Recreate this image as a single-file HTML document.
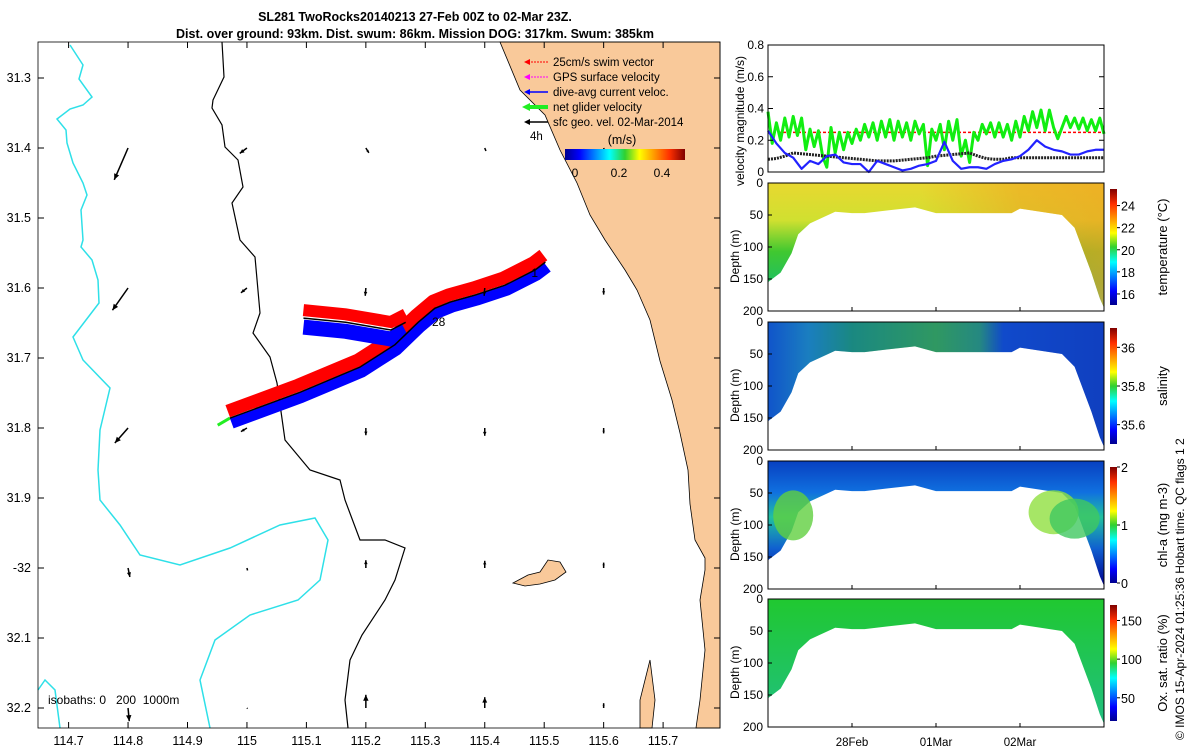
<!DOCTYPE html>
<html><head><meta charset="utf-8"><style>
body{margin:0;background:#fff;}
svg{display:block;font-family:"Liberation Sans","DejaVu Sans",sans-serif;}
</style></head><body>
<svg id="fig" width="1200" height="750" viewBox="0 0 1200 750" xmlns="http://www.w3.org/2000/svg">
<defs>
<linearGradient id="jet" x1="0" y1="1" x2="0" y2="0">
<stop offset="0" stop-color="#00008f"/><stop offset="0.12" stop-color="#0000ff"/><stop offset="0.37" stop-color="#00ffff"/><stop offset="0.5" stop-color="#30d030"/><stop offset="0.62" stop-color="#ffff00"/><stop offset="0.87" stop-color="#ff3000"/><stop offset="1" stop-color="#800000"/></linearGradient>
<linearGradient id="jeth" x1="0" y1="0" x2="1" y2="0">
<stop offset="0" stop-color="#00008f"/><stop offset="0.12" stop-color="#0000ff"/><stop offset="0.37" stop-color="#00ffff"/><stop offset="0.5" stop-color="#30d030"/><stop offset="0.62" stop-color="#ffff00"/><stop offset="0.87" stop-color="#ff3000"/><stop offset="1" stop-color="#800000"/></linearGradient>
<linearGradient id="gT" x1="0" y1="0" x2="0" y2="1"><stop offset="0" stop-color="#e8d830"/><stop offset="0.3" stop-color="#d0e030"/><stop offset="0.55" stop-color="#40c830"/><stop offset="0.8" stop-color="#20c060"/><stop offset="1" stop-color="#20c8b0"/></linearGradient>
<linearGradient id="gTo" x1="0" y1="0" x2="1" y2="0"><stop offset="0.45" stop-color="#f0a020" stop-opacity="0"/><stop offset="0.75" stop-color="#f0a020" stop-opacity="0.55"/><stop offset="1" stop-color="#f0a020" stop-opacity="0.7"/></linearGradient>
<linearGradient id="gS" x1="0" y1="0" x2="1" y2="0"><stop offset="0" stop-color="#1060d0"/><stop offset="0.12" stop-color="#20a0c0"/><stop offset="0.25" stop-color="#20b060"/><stop offset="0.5" stop-color="#40c830"/><stop offset="0.63" stop-color="#30b060"/><stop offset="0.7" stop-color="#1050d0"/><stop offset="1" stop-color="#1040c0"/></linearGradient>
<linearGradient id="gC" x1="0" y1="0" x2="0" y2="1"><stop offset="0" stop-color="#0840c0"/><stop offset="0.25" stop-color="#1070e0"/><stop offset="0.45" stop-color="#20c0a0"/><stop offset="0.7" stop-color="#1060d0"/><stop offset="1" stop-color="#000090"/></linearGradient>
<linearGradient id="gO" x1="0" y1="0" x2="0" y2="1"><stop offset="0" stop-color="#20c830"/><stop offset="1" stop-color="#20c080"/></linearGradient>
</defs>

<g>
<rect x="38" y="42" width="682" height="686" fill="#fff"/>
<g id="map"></g>
<rect x="38" y="42" width="682" height="686" fill="none" stroke="#000" stroke-width="0.8"/>
<g id="mapAxes"></g>
</g>
<text x="415" y="21" text-anchor="middle" font-size="12.5" font-weight="bold">SL281 TwoRocks20140213 27-Feb 00Z to 02-Mar 23Z.</text>
<text x="415" y="38" text-anchor="middle" font-size="12.5" font-weight="bold">Dist. over ground: 93km. Dist. swum: 86km. Mission DOG: 317km. Swum: 385km</text>

<g font-size="11.5">
<line x1="548" y1="62" x2="526" y2="62" stroke="#f00" stroke-dasharray="2,1"/><polygon points="524,62 530,59 530,65" fill="#f00"/><text x="553" y="66">25cm/s swim vector</text>
<line x1="548" y1="77" x2="526" y2="77" stroke="#f0f" stroke-dasharray="2,1"/><polygon points="524,77 530,74 530,80" fill="#f0f"/><text x="553" y="81">GPS surface velocity</text>
<line x1="548" y1="92" x2="526" y2="92" stroke="#00f" stroke-width="1.5"/><polygon points="524,92 530,89 530,95" fill="#00f"/><text x="553" y="96">dive-avg current veloc.</text>
<line x1="548" y1="107" x2="526" y2="107" stroke="#2e2" stroke-width="4"/><polygon points="522,107 530,103 530,111" fill="#2e2"/><text x="553" y="111">net glider velocity</text>
<line x1="548" y1="122" x2="526" y2="122" stroke="#000" stroke-width="1.5"/><polygon points="524,122 530,119 530,125" fill="#000"/><text x="553" y="126">sfc geo. vel. 02-Mar-2014</text>
<text x="530" y="140" font-size="11.5">4h</text>
<text x="622" y="144" text-anchor="middle" font-size="12.5">(m/s)</text>
<rect x="565" y="149" width="120" height="11" fill="url(#jeth)"/>
<text x="575" y="177" text-anchor="middle" font-size="12">0</text>
<text x="619" y="177" text-anchor="middle" font-size="12">0.2</text>
<text x="662" y="177" text-anchor="middle" font-size="12">0.4</text>
</g>
<text x="48" y="704" font-size="12" style="white-space:pre">isobaths: 0   200  1000m</text>

<g id="vel"></g>
<g id="sections"></g>
<text transform="translate(1184,740) rotate(-90)" font-size="12">© IMOS 15-Apr-2024 01:25:36 Hobart time. QC flags 1  2</text>

<script>
const NS="http://www.w3.org/2000/svg";
function mk(tag,attrs,parent,txt){const e=document.createElementNS(NS,tag);for(const k in attrs)e.setAttribute(k,attrs[k]);if(txt!==undefined)e.textContent=txt;parent.appendChild(e);return e;}

const lonTicks=[114.7,114.8,114.9,115,115.1,115.2,115.3,115.4,115.5,115.6,115.7];
const latTicks=[31.3,31.4,31.5,31.6,31.7,31.8,31.9,32,32.1,32.2];
const latLabels=["31.3","31.4","31.5","31.6","31.7","31.8","31.9","-32","32.1","32.2"];
const lonLabels=["114.7","114.8","114.9","115","115.1","115.2","115.3","115.4","115.5","115.6","115.7"];
const trackLon=[114.971,115.089,115.190,115.249,115.288,115.316,115.342,115.384,115.434,115.485,115.502];
const trackLat=[31.786,31.749,31.713,31.681,31.649,31.629,31.620,31.610,31.596,31.574,31.563];
const branchLon=[115.095,115.166,115.242,115.267];
const branchLat=[31.643,31.649,31.660,31.649];
const arrowLon=[114.8,115.0,115.2,115.4,115.6];
const arrowLat=[31.4,31.6,31.8,32.0,32.2];
const arrowU=[[-2.3,-2.6,-2.2,0.3,0.2],[-1.2,-1.0,-1.0,0.1,0.1],[0.5,-0.1,0,0,0],[0.2,-0.1,0,0,0],[0.1,0,0,0,0]];
const arrowV=[[5.3,3.7,2.5,1.5,2.2],[0.9,0.8,0.6,0.4,0.1],[0.8,1.3,1.2,-1.3,-2.2],[0.5,1.3,1.3,-1.2,-1.8],[0.3,1.1,0.9,-0.9,-0.8]];
const netTime=[];for(let i=0;i<=80;i++)netTime.push(i*0.05);
const netVel=[0.38,0.18,0.31,0.2,0.34,0.22,0.35,0.23,0.34,0.14,0.27,0.16,0.26,0.1,0.03,0.28,0.12,0.25,0.14,0.25,0.18,0.27,0.2,0.3,0.22,0.31,0.2,0.32,0.22,0.33,0.2,0.32,0.22,0.31,0.2,0.32,0.24,0.3,0.04,0.27,0.2,0.3,0.14,0.32,0.2,0.33,0.1,0.2,0.06,0.25,0.2,0.3,0.24,0.31,0.22,0.31,0.22,0.3,0.2,0.32,0.22,0.35,0.26,0.38,0.28,0.39,0.26,0.39,0.28,0.21,0.28,0.35,0.28,0.34,0.27,0.34,0.26,0.33,0.26,0.34,0.24];
const velTime=[0,0.1,0.2,0.3,0.4,0.5,0.6,0.7,0.8,0.9,1,1.1,1.2,1.3,1.4,1.5,1.6,1.7,1.8,1.9,2,2.1,2.2,2.3,2.4,2.5,2.6,2.7,2.8,2.9,3,3.1,3.2,3.3,3.4,3.5,3.6,3.7,3.8,3.9,4];
const daVel=[0.26,0.18,0.12,0.09,0.02,0.07,0.05,0.1,0.11,0.06,0.05,0.05,0.0,0.07,0.05,0.03,0.01,0.02,0.04,0.05,0.07,0.19,0.07,0.02,0.03,0.03,0.02,0.05,0.07,0.08,0.1,0.14,0.2,0.16,0.14,0.13,0.11,0.11,0.13,0.14,0.14];
const geoVel=[0.08,0.085,0.1,0.12,0.115,0.11,0.105,0.1,0.095,0.09,0.085,0.08,0.075,0.07,0.07,0.07,0.075,0.08,0.085,0.09,0.1,0.105,0.11,0.115,0.12,0.1,0.085,0.08,0.08,0.09,0.09,0.09,0.09,0.09,0.09,0.09,0.09,0.09,0.09,0.09,0.09];
const swimVel=0.25;
const velTicks=[0,0.2,0.4,0.6,0.8];
const depthTicks=[0,50,100,150,200];
const dateTicks=[1,2,3];
const dateLabels=["28Feb","01Mar","02Mar"];
const edgeT=[0,0.05,0.15,0.28,0.36,0.5,0.8,1.0,1.15,1.75,2.0,2.9,3.0,3.5,3.65,3.85,3.95,4];
const edgeD=[155,150,140,110,80,63,45,47,47,38,47,47,40,50,70,140,180,195];

const lx=l=>68.6+(l-114.7)*594.5, ly=l=>78+(l-31.3)*700;
const map=document.getElementById('map'), ax=document.getElementById('mapAxes');
let land=mk('path',{d:"M500,42 L720,42 L720,728 L696,728 L700,700 L705,650 L700,600 L705,570 L705,558 L695,540 L690,504 L688,470 L680,433 L672,400 L660,361 L650,320 L637,290 L625,270 L605,240 L590,215 L577,183 L560,150 L545,115 L520,90 Z M652,728 L640,728 L640,700 L645,680 L650,660 L655,700 Z",fill:"#f9c99a",stroke:"#000","stroke-width":"0.8"},map);


let isl=mk('path',{d:"M513,583 L528,575 L540,572 L548,560 L560,562 L566,572 L555,580 L540,584 L525,586 Z",fill:"#f9c99a",stroke:"#000","stroke-width":"0.8"},map);


let iso200=mk('path',{d:"M222,42 L224,77 L213,100 L212,108 L222,125 L225,147 L238,160 L243,187 L232,203 L240,240 L255,257 L260,313 L253,333 L270,357 L277,383 L285,440 L310,470 L340,480 L345,500 L360,540 L385,540 L405,548 L395,580 L385,600 L362,635 L350,660 L345,700 L348,728",fill:"none",stroke:"#000","stroke-width":"1.2"},map);


let iso1000=mk('path',{d:"M70,45 L83,65 L79,79 L92,97 L83,105 L70,109 L57,119 L66,130 L67,143 L73,163 L83,183 L87,195 L81,210 L83,240 L81,247 L92,260 L98,280 L99,303 L73,337 L83,360 L110,388 L100,430 L98,470 L100,500 L120,525 L140,555 L180,565 L230,548 L280,525 L315,518 L328,540 L320,580 L298,600 L250,615 L215,640 L200,680 L210,728 M38,690 L45,680 L55,690 L60,728",fill:"none",stroke:"#2ee0e8","stroke-width":"1.5"},map);


const tp=trackLon.map((l,i)=>[lx(l),ly(trackLat[i])]);
const bp=branchLon.map((l,i)=>[lx(l),ly(branchLat[i])]);
function off(pts,dx,dy){return pts.map(p=>(p[0]+dx)+","+(p[1]+dy)).join(" ");}
let rf=mk('polyline',{points:off(tp,-2,-7),fill:"none",stroke:"#f00","stroke-width":"13","stroke-linejoin":"round"},map);


let bf=mk('polyline',{points:off(tp,2,5),fill:"none",stroke:"#00f","stroke-width":"11","stroke-linejoin":"round"},map);


let rb=mk('polyline',{points:off(bp,0,-8),fill:"none",stroke:"#f00","stroke-width":"12"},map);


let bb=mk('polyline',{points:off(bp,0,9),fill:"none",stroke:"#00f","stroke-width":"15"},map);


let tl=mk('polyline',{points:off(tp,0,0),fill:"none",stroke:"#000","stroke-width":"1.5"},map);


let tb=mk('polyline',{points:off(bp,0,0),fill:"none",stroke:"#000","stroke-width":"1.5"},map);


let ga=mk('line',{x1:tp[0][0],y1:tp[0][1],x2:tp[0][0]-12,y2:tp[0][1]+7,stroke:"#2e2","stroke-width":"3"},map);


let d1=mk('text',{x:tp[tp.length-1][0]-14,y:tp[tp.length-1][1]+15,"font-size":"12"},map,"1");


let d28=mk('text',{x:432,y:326,"font-size":"12"},map,"28");


arrowLon.forEach((lo,i)=>arrowLat.forEach((la,j)=>{
 const x=lx(lo),y=ly(la);const u=arrowU[i][j]*6,v=arrowV[i][j]*6;
 const a=mk('line',{x1:x,y1:y,x2:x+u,y2:y+v,stroke:"#000","stroke-width":"1.5"},map);
 
 
 const L=Math.hypot(u,v)||1,ux=u/L,uy=v/L,hs=Math.min(6,L*0.5);
 mk('polygon',{points:`${x+u},${y+v} ${x+u-ux*hs-uy*hs*0.45},${y+v-uy*hs+ux*hs*0.45} ${x+u-ux*hs+uy*hs*0.45},${y+v-uy*hs-ux*hs*0.45}`,fill:"#000"},map);
}));
lonTicks.forEach((l,i)=>{const x=lx(l);mk('line',{x1:x,y1:728,x2:x,y2:722,stroke:"#000"},ax);mk('line',{x1:x,y1:42,x2:x,y2:48,stroke:"#000"},ax);
 const t=mk('text',{x:x,y:745,"text-anchor":"middle","font-size":"12.5"},ax,lonLabels[i]);
 
 });
latTicks.forEach((l,i)=>{const y=ly(l);mk('line',{x1:38,y1:y,x2:44,y2:y,stroke:"#000"},ax);mk('line',{x1:720,y1:y,x2:714,y2:y,stroke:"#000"},ax);
 const t=mk('text',{x:31,y:y+4,"text-anchor":"end","font-size":"12.5"},ax,latLabels[i]);
 
 });

const X0=768,X1=1104;
const tx=t=>X0+t/4*(X1-X0);
const vel=document.getElementById('vel');
const vy=v=>172-v/0.8*127;
function line(times,arr,col,w,name,dash){const p=mk('polyline',{points:arr.map((v,i)=>tx(times[i])+","+vy(v)).join(" "),fill:"none",stroke:col,"stroke-width":w,"stroke-linejoin":"round"},vel);if(dash)p.setAttribute('stroke-dasharray',dash);
 
 }
const sw=mk('line',{x1:X0,x2:X1,y1:vy(swimVel),y2:vy(swimVel),stroke:"#f00","stroke-width":"1.5","stroke-dasharray":"3,2"},vel);


line(netTime,netVel,"#1e1","3","net-velocity-line");
line(velTime,geoVel,"#222","3","geo-velocity-line","2,1");
line(velTime,daVel,"#22f","2.2","dive-avg-velocity-line");
const vf=mk('rect',{x:X0,y:45,width:X1-X0,height:127,fill:"none",stroke:"#000"},vel);


velTicks.forEach(v=>{const y=vy(v);mk('line',{x1:X0,x2:X0+5,y1:y,y2:y,stroke:"#000"},vel);mk('line',{x1:X1,x2:X1-5,y1:y,y2:y,stroke:"#000"},vel);
 const t=mk('text',{x:764,y:y+4,"text-anchor":"end","font-size":"12"},vel,String(v));
 
 });
const vl=mk('text',{transform:"translate(744,186) rotate(-90)","font-size":"12"},vel,"velocity magnitude (m/s)");



const sec=document.getElementById('sections');
const panels=[{y:183,fill:"url(#gT)",over:"url(#gTo)",name:"temperature",ticks:[16,18,20,22,24],lo:15,hi:25.5,label:"temperature (°C)"},
{y:322,fill:"url(#gS)",name:"salinity",ticks:["35.6","35.8","36"],tv:[35.6,35.8,36],lo:35.5,hi:36.1,label:"salinity"},
{y:461,fill:"url(#gC)",name:"chlorophyll",ticks:[0,1,2],lo:0,hi:2,label:"chl-a (mg m-3)"},
{y:599,fill:"url(#gO)",name:"oxygen",ticks:[50,100,150],lo:20,hi:170,label:"Ox. sat. ratio (%)"}];
panels.forEach((p,k)=>{
 const g=mk('g',{},sec);
 
 
 const dy=d=>p.y+d/200*128;
 let pts=X0+","+dy(0)+" "+X1+","+dy(0)+" ";
 for(let i=edgeT.length-1;i>=0;i--)pts+=tx(edgeT[i])+","+dy(edgeD[i])+" ";
 const poly=mk('polygon',{points:pts,fill:p.fill},g);
 
 
 if(p.over)mk('polygon',{points:pts,fill:p.over},g);
 if(p.name==="salinity"){mk('polygon',{points:pts,fill:"#1040c0","fill-opacity":"0.35"},g);}
 if(p.name==="chlorophyll"){
  [[0.3,85,20,25,"#60d040"],[3.4,80,25,22,"#90e040"],[3.65,90,25,20,"#40c860"]].forEach(b=>{const e=mk('ellipse',{cx:tx(b[0]),cy:dy(b[1]),rx:b[2],ry:b[3],fill:b[4],"fill-opacity":"0.8"},g);
   
   });
 }
 mk('rect',{x:X0,y:p.y,width:X1-X0,height:128,fill:"none",stroke:"#000"},g);
 depthTicks.forEach(d=>{const y=dy(d);mk('line',{x1:X0,x2:X0+4,y1:y,y2:y,stroke:"#000"},g);
  const t=mk('text',{x:763,y:y+4,"text-anchor":"end","font-size":"12"},g,String(d));
  
  });
 dateTicks.forEach(d=>{mk('line',{x1:tx(d),x2:tx(d),y1:p.y+128,y2:p.y+124,stroke:"#000"},g);});
 const dl=mk('text',{transform:`translate(739,${p.y+100}) rotate(-90)`,"font-size":"12"},g,"Depth (m)");
 
 
 const cb=mk('rect',{x:1110,y:p.y+6,width:7,height:116,fill:"url(#jet)"},g);
 
 
 const vals=p.tv||p.ticks;
 vals.forEach((v,i)=>{const y=p.y+122-(v-p.lo)/(p.hi-p.lo)*116;mk('line',{x1:1117,x2:1120,y1:y,y2:y,stroke:"#000"},g);
  const t=mk('text',{x:1121,y:y+5,"font-size":"12.5"},g,String(p.ticks[i]));
  
  });
 const cl=mk('text',{transform:`translate(1167,${p.y+64}) rotate(-90)`,"text-anchor":"middle","font-size":"13"},g,p.label);
 
 
});
dateTicks.forEach((d,i)=>{const t=mk('text',{x:tx(d),y:746,"text-anchor":"middle","font-size":"11.5"},sec,dateLabels[i]);
 
 });
</script>
</svg>
</body></html>
